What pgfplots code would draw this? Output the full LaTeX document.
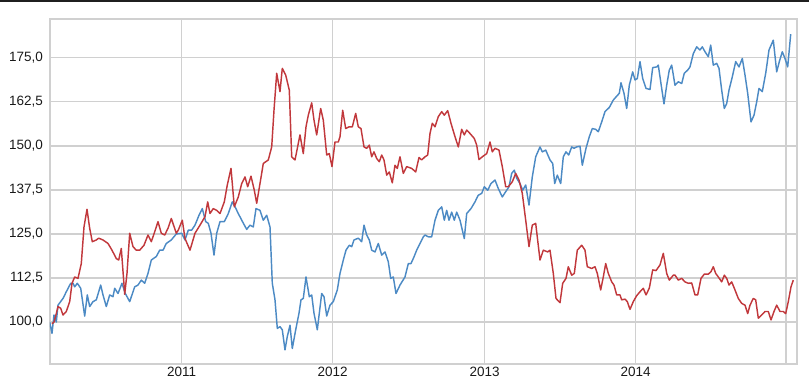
\documentclass[border=0pt]{standalone}
\usepackage{fontspec}
\setmainfont{Liberation Sans}
\usepackage{pgfplots}
\pgfplotsset{compat=1.18}
\definecolor{myred}{RGB}{193,56,60}
\definecolor{myblue}{RGB}{76,138,196}
\definecolor{gridc}{RGB}{208,208,208}
\begin{document}
\begin{tikzpicture}[x=1pt,y=1pt]
\useasboundingbox (-50,-26) rectangle (759,364);
\fill[black!88] (-50,362) rectangle (759,364);
\begin{axis}[at={(0,0)}, anchor=south west, scale only axis,
  width=747pt, height=345pt,
  xmin=50, xmax=797, ymin=88.1, ymax=186,
  xtick={181.7,332.7,484.7,635.7,786}, xticklabels={2011,2012,2013,2014,{}},
  ytick={100,112.5,125,137.5,150,162.5,175},
  grid=major, major grid style={gridc, line width=1.3pt},
  axis line style={gridc, line width=1.3pt},
  major tick length=0pt,
  ticklabel style={font=\fontsize{13.5}{16}\selectfont, text=black!90},
  y tick label style={xshift=-3.5pt, /pgf/number format/.cd, fixed, fixed zerofill, precision=1, use comma, assume math mode=true},
  every axis plot/.append style={line width=1.45pt, line join=round, mark=none},
]
\addplot[myblue] coordinates {
(49.7,100)(52,96.8)(54,102)(56.3,100)(58,104.8)(63,106.7)(66.3,108.6)(70.7,111)(73,111)(74.7,110)
(77.3,111)(80.7,109.6)(84.7,101.7)(87.3,107.7)(89.7,104.4)(93,105.8)(96.3,106.3)(100.7,110.5)(103,107.7)(106.3,104.4)
(109.7,107.7)(113,107.2)(114.7,109.6)(118,108.1)(122,111)(125.3,108.1)(129.7,105.8)(134.7,110)(138,110.5)(141.3,111.9)
(144.7,111)(148,113.8)(151.3,117.6)(156.3,118.6)(159.7,120.4)(163,120.4)(166.3,122.3)(171.3,123.3)(176.3,125)
(181.7,125.2)(185,123.3)(188.3,126.1)(191.7,126.1)(195,127.5)(199,130.3)(202.3,132.2)(205.7,128.5)(208.3,128)(211,125.2)
(214,119)(216.7,125.2)(220,128.5)(224.3,128.5)(228.3,130.8)(232.3,134.1)(235,132.7)(238.3,130.8)(241.7,128.9)(246.7,126.3)
(250,127.5)(253.3,127)(256,132.2)(260,131.7)(263.3,128.9)(266.7,130.3)(270,127)(272.3,111)(275,106.3)(277.3,98.2)
(280,98.7)(282.3,97.8)(285,92.1)(287.3,95.9)(290,99.1)(292.3,92.5)(295.7,97.8)(299,102.5)(301,106.3)(303.3,106.7)
(306,112.8)(309.3,107.2)(311.7,107.7)(314,102.5)(317.3,97.8)(321.7,108.1)(324,107.2)(326.7,101.7)(330,104.8)(333.3,105.8)
(337.3,109.1)(340,113.8)(343.3,117.6)(346,120.4)(349.3,121.8)(351.7,121.4)(354,123.3)(358.3,123.8)(361.7,122.8)(364,127.5)
(366.7,124.7)(369.3,123.3)(371.7,120.4)(375,119.9)(378.3,122.3)(381.7,119)(385,119.9)(388.3,117.1)(390.7,112.4)(393.3,112.8)
(396,108.1)(400,110.5)(405,112.8)(408.3,116.6)(411,116.6)(414,118.5)(416.7,120.4)(420,122.3)(423.3,124.2)(425,124.7)
(428.3,124.2)(431.7,124.2)(435,128.9)(438.3,131.7)(441.7,132.7)(444.3,128.9)(446.7,131.7)(449,128.9)(451.7,131.2)(454.3,128.9)
(456.7,131.2)(460,128.9)(464.3,123.7)(466.7,130.8)(471,132.2)(475,134.1)(478.3,136)(481.7,136.5)(484.3,138.4)(487.7,137.4)
(491,139.3)(495,140.3)(498.3,137.9)(502.3,135.5)(505.7,137)(509,138.4)(511.7,142.2)(514.3,143.1)(516.7,140.8)(520,139.3)
(522.7,137.4)(525.7,138.9)(529,133.2)(532.3,141.2)(535.7,146.9)(540,149.7)(542.3,148.3)(545.7,148.8)(550,146)(552.7,145)
(554.7,139.3)(557.3,141.7)(560.7,139.3)(563.3,146.9)(566,148.3)(568.7,147.4)(571.7,149.7)(574,149.3)(576.7,149.7)(580,149.9)
(582.3,144.5)(586,149.3)(589.3,152.6)(592.3,154.9)(595.7,154.7)(598.3,154)(601.7,156.8)(605,159.7)(609.3,160.9)(613.3,163)
(616.7,164.1)(619.3,164.9)(621,167.9)(624,164.9)(626.7,160.6)(629.3,167.2)(632.7,171)(635,168.7)(637.3,169.1)(640,173.9)
(642.7,169.1)(646,166.3)(650,166)(652.7,172.2)(656.7,172.4)(658.3,172.9)(660.7,168.2)(664,161.9)(666.7,167.2)(669.3,171.5)
(671.7,172.9)(675,167.2)(678.3,168.2)(681.7,167.7)(684.3,170.6)(687.7,171.5)(690,172.4)(693.3,176.2)(696.7,178.1)(700,177.2)
(702.3,178.1)(705,176.7)(708.3,175.3)(710.7,178.6)(713.3,172.9)(716.7,173.4)(719,172)(721.7,165.8)(724.3,160.6)(726.7,162)
(729,165.8)(732.3,169.6)(735.7,173.9)(739,172.4)(742.3,174.8)(745,170.1)(747.7,164.9)(751,156.8)(754,158.7)(756.7,162.5)
(759,166.3)(762.3,165.4)(765.7,170.6)(769,177.2)(773.3,180)(776.7,171)(779.3,173.9)(782.3,176.7)(785,174.8)(787.7,172.4)
(790.7,181.7)
};
\addplot[myred] coordinates {
(52,99.5)(54,100)(56.3,102.4)(58,104.4)(60.7,103.9)(63,102)(66.3,103)(69.7,105.8)(72,111)(74.7,112.8)
(78,112.4)(81.3,116.6)(84,127)(87,132)(89.7,126.6)(92.3,122.8)(96.3,123.3)(98.7,123.8)(103,123.3)(108,122.3)
(112,120.4)(116.3,118)(118.7,117.6)(121.3,120.9)(124.7,107.9)(127,113.8)(129.7,125.2)(133,121.4)(136.3,120.4)(139.7,120.4)
(144,121.8)(148,124.7)(151.3,122.8)(154.7,125.6)(158,128.5)(161.3,125.2)(164.7,124.7)(168,126.6)(171.3,129.4)(176.3,125.2)
(178.3,126.1)(182.3,128.9)(185,123.7)(190,120.4)(195,125.2)(200,127.5)(205,129.9)(207.7,134.1)(210,130.8)(213.3,132.2)
(216.7,131.7)(220,130.8)(224.3,134.1)(227.3,138.9)(231,143.6)(234.3,132.7)(238.3,135.5)(241.7,139.3)(245,141.2)(247.7,138.4)
(251,141.4)(254.3,137.4)(256.7,133.7)(260,139.3)(263.3,145)(268.3,146)(271.7,149.7)(274,160.1)(276.7,170.6)(280,165.4)
(282.3,172)(285.7,170.1)(289.3,165.8)(291.7,146.9)(295,146)(300,153.1)(303.3,147.8)(306,155.4)(308.3,158.7)(311.7,162.2)
(314,157.3)(316.7,153.1)(320.7,160.6)(323.3,157.3)(326.7,147.4)(329.3,147.8)(332,144.1)(335,151.1)(338.3,151.1)(340,152.6)
(342.7,160.1)(345.7,154.9)(349,155.4)(352.3,155.4)(355.7,159.2)(358.3,155.4)(361,154.9)(364,149.7)(366.7,149.3)(369.3,150.2)
(371.7,146.9)(374,148.3)(376.7,146.4)(379.3,145.5)(381.7,147.4)(384,146)(386.7,141.7)(389.3,142.6)(392.3,139.5)(395,144.5)
(397.3,143.6)(400,146.9)(403.3,142.2)(406.7,144.1)(411.7,143.6)(415.7,142.6)(419,146.7)(421.7,146)(425,146.9)(427.7,147.4)
(430,153.5)(432.3,156.4)(435,155.4)(438.3,158.3)(441.7,159.7)(444.3,158.7)(447.7,160)(451,156.4)(455,152.6)(458.3,149.7)
(461.7,154.7)(464.3,153.1)(466.7,154.5)(470,153.5)(474.3,152.1)(476.7,150.2)(479,146.1)(482.3,146.9)(486.7,147.8)(490,151.1)
(492.3,148.3)(495,149.3)(499,148.8)(502.3,144.1)(505.7,138.4)(508.3,138.4)(512.3,139.8)(515.7,142.2)(519,140.3)(522.3,136.5)
(525.7,128.9)(529,121.4)(532.3,127.5)(535.7,128)(540,117.6)(543.3,120.4)(547.7,119.9)(550,120.4)(553.3,113.8)(556,106.7)
(560,105.5)(562.7,111)(566,112.4)(568.3,115.7)(571.7,113.3)(574.3,113.8)(577.3,120.4)(581.7,121.8)(585,120.4)(587.3,115.7)
(591.7,115.2)(595,115.7)(597.3,113.8)(600.7,109.1)(603.3,112.8)(605.7,116.6)(608.3,113.8)(611.7,111.4)(614,110.5)(616.7,107.7)
(620,107.7)(621.7,106.3)(625,106.5)(627.3,105.8)(630,103.6)(633.3,105.8)(636.7,107.5)(640,108.6)(643.3,109.6)(646,107.7)
(649.3,109.6)(652.7,114.8)(656,114.6)(660,116.2)(663.3,119.5)(666.7,113.8)(669.3,111.9)(673.3,113.3)(675,113.3)(678.3,111.9)
(681.7,112.4)(685,111.4)(688.3,111)(691.7,111.1)(695,107.7)(697.7,107.7)(701,112.4)(704.3,113.6)(708.3,113.6)(711,114.3)
(713.3,115.7)(715.7,113.8)(718.3,112.8)(721.7,111.4)(724.3,113.3)(726.7,112.4)(729,110.5)(731.7,111.4)(735,109.1)(738.3,106.7)
(741.7,105.3)(745,104.8)(747.7,102.4)(750,104.8)(753.3,106.7)(755.7,106.3)(758.3,101.1)(761.7,102)(765,103)(768.3,103)
(771,100.6)(774,103)(776.7,104.8)(780,103)(783.3,103)(785.7,102.4)(788.3,105.8)(791,110)(793.3,111.9)
};
\end{axis}
\end{tikzpicture}
\end{document}
